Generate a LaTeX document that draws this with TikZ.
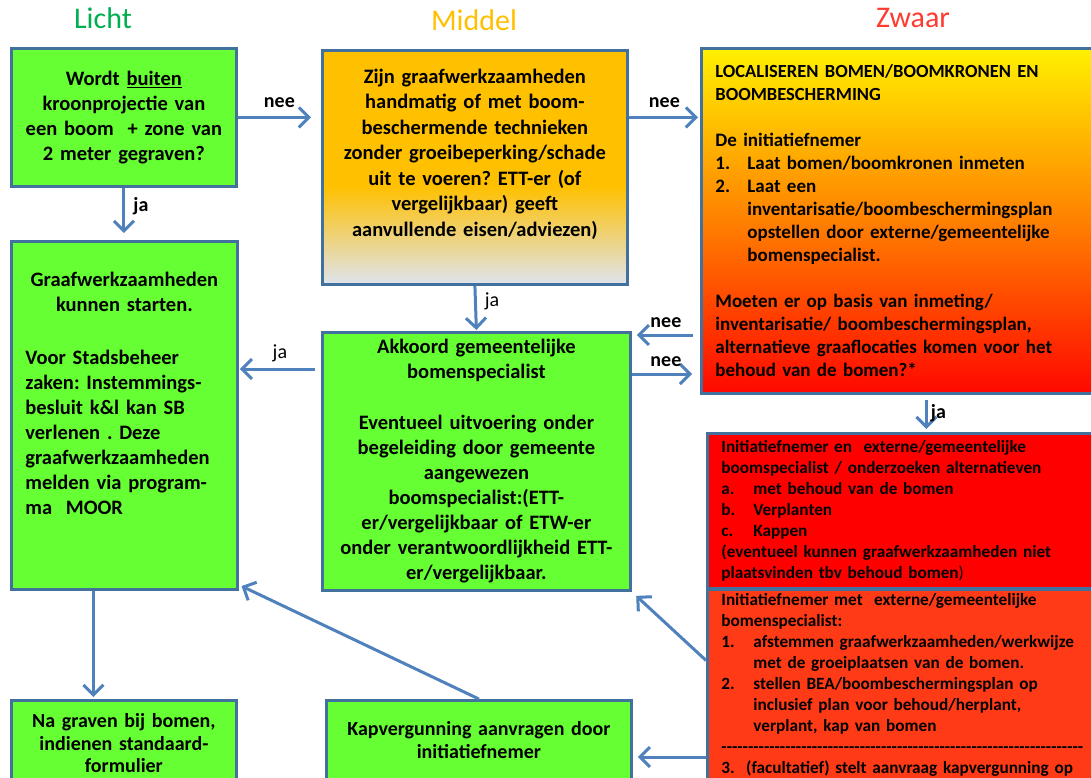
\documentclass[tikz,border=0pt]{standalone}
\usepackage{fontspec}
\setmainfont{Carlito}
\usetikzlibrary{arrows.meta,positioning}
\definecolor{boxblue}{HTML}{41719C}
\definecolor{arrowblue}{HTML}{4F81BD}
\definecolor{lichtgreen}{HTML}{66FF33}
\definecolor{titlegreen}{HTML}{00B050}
\definecolor{titlegold}{HTML}{FFC000}
\definecolor{titlered}{HTML}{FF3B2F}
\definecolor{bluegray}{HTML}{DEE4EE}
\definecolor{zyellow}{HTML}{FFF000}
\definecolor{zorange}{HTML}{FF8000}
\definecolor{zred}{HTML}{FF0800}
\definecolor{redfill}{HTML}{FF0000}
\definecolor{orangered}{HTML}{FF3A17}
\pgfdeclareverticalshading{middelshade}{100bp}{color(0bp)=(bluegray); color(25bp)=(bluegray); color(46bp)=(titlegold); color(100bp)=(titlegold)}
\pgfdeclareverticalshading{zwaarshade}{100bp}{color(0bp)=(zred); color(25bp)=(zred); color(50bp)=(zorange); color(75bp)=(zyellow); color(100bp)=(zyellow)}
\frenchspacing

\begin{document}
\begin{tikzpicture}[x=1pt, y=-1pt]
\tikzset{
    box/.style={rectangle, draw=boxblue, line width=2.8pt, anchor=north west, inner xsep=7pt, inner ysep=3pt, font=\bfseries\fontsize{20.5}{25}\selectfont, align=center},
    groenbox/.style={box, fill=lichtgreen},
    roodbox/.style={box, align=left, inner xsep=14pt, font=\bfseries\fontsize{17.2}{21}\selectfont},
    titel/.style={font=\fontsize{30}{32}\selectfont},
    pijl/.style={-{Straight Barb[length=10pt,width=20pt]}, draw=arrowblue, line width=3pt},
    neetekst/.style={font=\bfseries\fontsize{20}{22}\selectfont, inner sep=2pt},
    jatekst/.style={font=\fontsize{20}{22}\selectfont, inner sep=2pt}
}
\useasboundingbox (0,0) rectangle (1091,778);
\fill[white] (0,0) rectangle (1091,778);

% kolomkoppen
\node[titel, text=titlegreen] (licht) at (103,18) {Licht};
\node[titel, text=titlegold] (middel) at (474,20) {Middel};
\node[titel, text=titlered] (zwaar) at (913,18) {Zwaar};

% bovenste rij
\node[groenbox, minimum width=225pt, minimum height=138pt, text width=211pt] (kroon) at (10,47)
  {Wordt \underline{buiten}\\ kroonprojectie van\\ een boom~ + zone van\\ 2 meter gegraven?};
\node[box, shading=middelshade, minimum width=305pt, minimum height=234pt, text width=291pt, font=\bfseries\fontsize{20.5}{25.5}\selectfont] (handmatig) at (321,49)
  {Zijn graafwerkzaamheden\\ handmatig of met boom-\\ beschermende technieken\\ zonder groeibeperking/schade\\ uit te voeren? ETT-er (of\\ vergelijkbaar) geeft\\ aanvullende eisen/adviezen)\\[4pt]~};
\node[roodbox, shading=zwaarshade, minimum width=410pt, minimum height=345pt, text width=382pt, font=\bfseries\fontsize{19}{23}\selectfont] (lokaliseren) at (700,47)
  {{\fontsize{18.5}{23}\selectfont LOCALISEREN BOMEN/BOOMKRONEN EN\\ BOOMBESCHERMING}\\[23pt]
   De initiatiefnemer\\
   \makebox[32pt][l]{1.}Laat bomen/boomkronen inmeten\\
   \makebox[32pt][l]{2.}Laat een\\
   \hspace*{32pt}inventarisatie/boombeschermingsplan\\
   \hspace*{32pt}opstellen door externe/gemeentelijke\\
   \hspace*{32pt}bomenspecialist.\\[23pt]
   Moeten er op basis van inmeting/\\
   inventarisatie/ boombeschermingsplan,\\
   alternatieve graaflocaties komen voor het\\
   behoud van de bomen?*};

% middelste rij
\node[groenbox, align=left, inner xsep=14pt, minimum width=226pt, minimum height=348pt, text width=198pt] (starten) at (10,240)
  {\makebox[198pt]{Graafwerkzaamheden}\\ \makebox[198pt]{kunnen starten.}\\[28pt]
   Voor Stadsbeheer\\ zaken: Instemmings-\\ besluit k\&l kan SB\\ verlenen . Deze\\ graafwerkzaamheden\\ melden via program-\\ ma~~MOOR\\[19pt]~};
\node[groenbox, minimum width=308pt, minimum height=258pt, text width=294pt] (akkoord) at (321,331)
  {Akkoord gemeentelijke\\ bomenspecialist\\[26pt]
   Eventueel uitvoering onder\\ begeleiding door gemeente\\ aangewezen\\ boomspecialist:(ETT-\\ er/vergelijkbaar of ETW-er\\ onder verantwoordlijkheid ETT-\\ er/vergelijkbaar.};
\node[roodbox, fill=redfill, minimum width=404pt, minimum height=155pt, text width=376pt] (alternatief) at (706,432)
  {Initiatiefnemer en~ externe/gemeentelijke\\
   boomspecialist / onderzoeken alternatieven\\
   \makebox[32pt][l]{a.}met behoud van de bomen\\
   \makebox[32pt][l]{b.}Verplanten\\
   \makebox[32pt][l]{c.}Kappen\\
   (eventueel kunnen graafwerkzaamheden niet\\
   plaatsvinden tbv behoud bomen{\mdseries)}};
\node[roodbox, fill=orangered, minimum width=404pt, minimum height=192pt, text width=376pt] (uitwerking) at (706,588)
  {Initiatiefnemer met~ externe/gemeentelijke\\
   bomenspecialist:\\
   \makebox[32pt][l]{1.}afstemmen graafwerkzaamheden/werkwijze\\
   \hspace*{32pt}met de groeiplaatsen van de bomen.\\
   \makebox[32pt][l]{2.}stellen BEA/boombeschermingsplan op\\
   \hspace*{32pt}inclusief plan voor behoud/herplant,\\
   \hspace*{32pt}verplant, kap van bomen\\
   \makebox[362pt]{\xleaders\hbox{-}\hfill}\\
   3.~ (facultatief) stelt aanvraag kapvergunning op};

% onderste rij
\node[groenbox, minimum width=225pt, minimum height=86pt, text width=211pt, font=\bfseries\fontsize{20}{22.5}\selectfont] (nagraven) at (10,699)
  {Na graven bij bomen,\\ indienen standaard-\\ formulier};
\node[groenbox, minimum width=305pt, minimum height=80pt, text width=291pt, font=\bfseries\fontsize{20}{23}\selectfont] (kapvergunning) at (325,699)
  {Kapvergunning aanvragen door\\ initiatiefnemer};

% hulppunten voor de horizontale pijlen
\coordinate (neein) at ([yshift=-4pt]akkoord.north east);
\coordinate (neeuit) at ([yshift=-43pt]akkoord.north east);
\coordinate (jalinks) at ([yshift=-38pt]akkoord.north west);
\coordinate (kapin) at ([yshift=-58pt]kapvergunning.north east);
\coordinate (jaomlaag) at ([xshift=20pt]lokaliseren.south);
\coordinate (naar) at ([xshift=-31pt]starten.south);

\draw[pijl, shorten >=10pt] (kroon.east) -- (kroon.east -| handmatig.west)
  node[neetekst, midway, above=6pt] {nee};
\draw[pijl, shorten >=2pt] (kroon.east -| handmatig.east) -- (kroon.east -| lokaliseren.west)
  node[neetekst, midway, above=6pt] {nee};
\draw[pijl, shorten >=7pt] (kroon.south) -- (kroon.south |- starten.north)
  node[neetekst, pos=0.35, right=6pt] {ja};
\draw[pijl, shorten >=1pt] (handmatig.south) -- (akkoord.north)
  node[jatekst, pos=0.35, right=6pt] {ja};
\draw[pijl, shorten <=7pt, shorten >=5pt] (neein -| lokaliseren.west) -- (neein)
  node[neetekst, midway, above=4pt] {nee};
\draw[pijl, shorten >=8pt] (neeuit) -- (neeuit -| lokaliseren.west)
  node[neetekst, midway, above=4pt] {nee};
\draw[pijl, shorten <=6pt, shorten >=1pt] (jalinks) -- (jalinks -| starten.east)
  node[jatekst, midway, above=4pt] {ja};
\draw[pijl, shorten <=5pt, shorten >=3pt] (jaomlaag) -- (jaomlaag |- alternatief.north)
  node[neetekst, midway, right=1pt] {ja};
\draw[pijl, shorten >=2pt] (naar) -- (naar |- nagraven.north);
\draw[pijl, shorten >=3pt] (kapvergunning.north) -- ([yshift=6pt]starten.south east);
\draw[pijl, shorten >=6pt] ([yshift=25pt]uitwerking.west) -- (akkoord.south east);
\draw[pijl, shorten >=5pt] (kapin -| uitwerking.west) -- (kapin);

\end{tikzpicture}
\end{document}
